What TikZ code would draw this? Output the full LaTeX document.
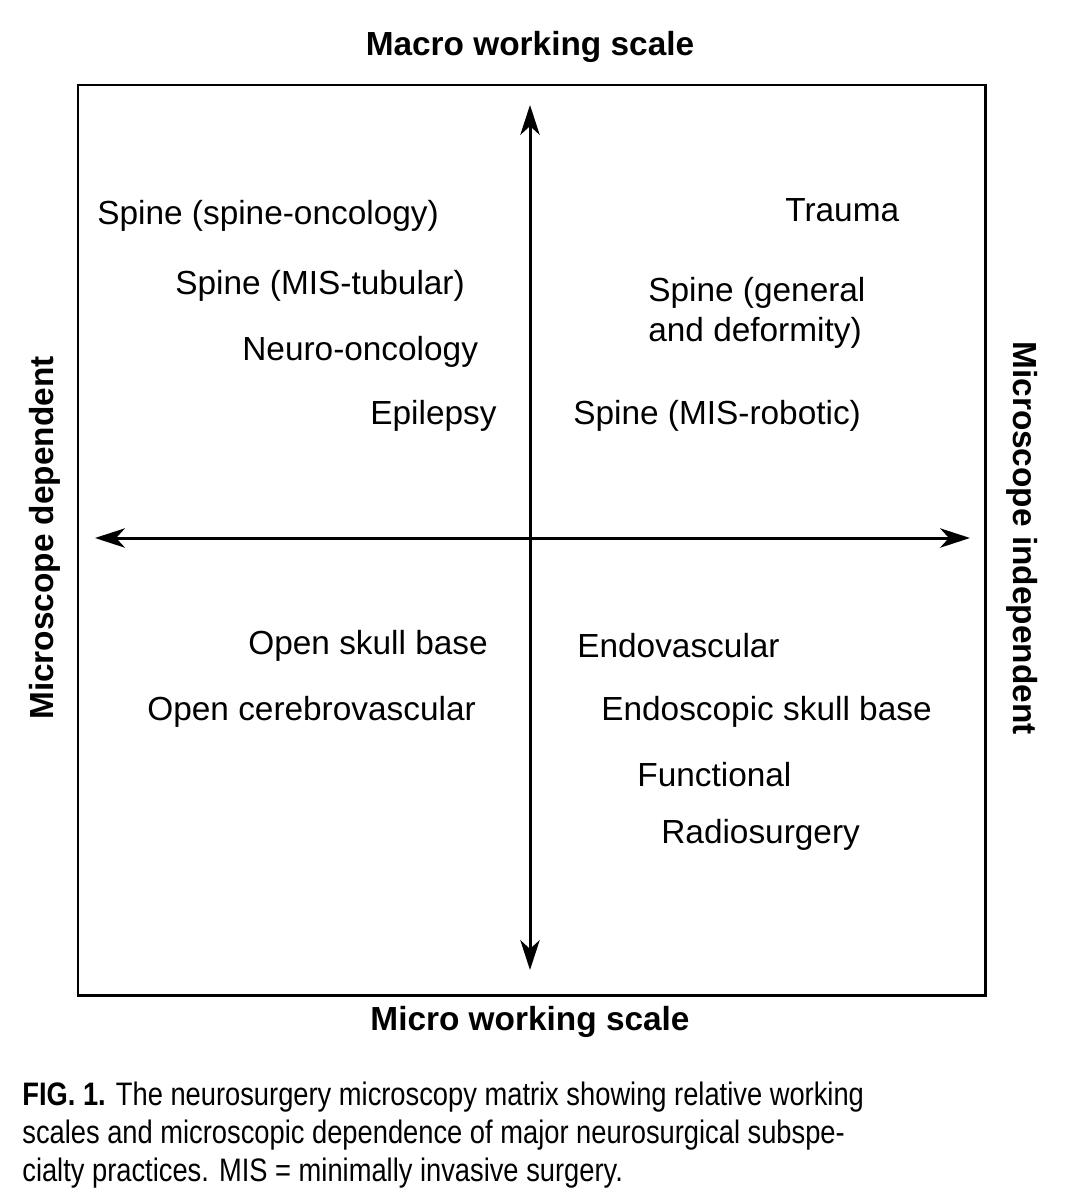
\documentclass[tikz,border=0pt]{standalone}
\usepackage{fontspec}
\setmainfont{Liberation Sans}
\newfontfamily\capfont{Liberation Sans}[FakeStretch=0.84]
\usetikzlibrary{arrows.meta}
\tikzset{
  >={Stealth[length=17pt,width=11pt,inset=5pt]},
  every node/.style={font=\fontsize{19}{23}\selectfont, inner sep=0pt},
  item/.style={anchor=west},
  axislabel/.style={font=\fontsize{19}{23}\selectfont\bfseries},
  axis/.style={line width=1.7pt,<->},
}
\begin{document}
\begin{tikzpicture}[x=0.02cm,y=-0.02cm]
  \useasboundingbox (0,0) rectangle (1071,1200);
  % frame
  \draw[line width=1.7pt] (78,85) rectangle (985,995);
  % axes
  \coordinate (top) at (530,105);
  \coordinate (bot) at (530,970);
  \coordinate (lft) at (95,538);
  \coordinate (rgt) at (970,538);
  \draw[axis] (bot) -- (top);
  \draw[axis] (lft) -- (rgt);
  % axis labels
  \node[axislabel] (macro) at (530,47) {Macro working scale};
  \node[axislabel] (micro) at (530,1022) {Micro working scale};
  \node[axislabel,rotate=90] (mdep) at (45,538) {Microscope dependent};
  \node[axislabel,rotate=-90] (mind) at (1022,538) {Microscope independent};
  % upper left
  \node[item] (sponc) at (97,216) {Spine (spine-oncology)};
  \node[item] (sptub) at (175,286) {Spine (MIS-tubular)};
  \node[item] (neuro) at (242,352) {Neuro-oncology};
  \node[item] (epil) at (370,416) {Epilepsy};
  % upper right
  \node[item] (trauma) at (785,210) {Trauma};
  \node[item,align=left] (spgen) at (648,313) {Spine (general\\and deformity)};
  \node[item] (sprob) at (573,416) {Spine (MIS-robotic)};
  % lower left
  \node[item] (osb) at (248,646) {Open skull base};
  \node[item] (ocv) at (147,712) {Open cerebrovascular};
  % lower right
  \node[item] (endov) at (577,646) {Endovascular};
  \node[item] (endsb) at (601,712) {Endoscopic skull base};
  \node[item] (func) at (637,775) {Functional};
  \node[item] (radio) at (661,835) {Radiosurgery};
  % caption
  \node[anchor=north west,align=left,font=\capfont\fontsize{18.5}{21.5}\selectfont] (cap) at (22,1082)
    {\textbf{FIG. 1.} The neurosurgery microscopy matrix showing relative working\\
     scales and microscopic dependence of major neurosurgical subspe-\\
     cialty practices. MIS = minimally invasive surgery.};
\end{tikzpicture}
\end{document}
